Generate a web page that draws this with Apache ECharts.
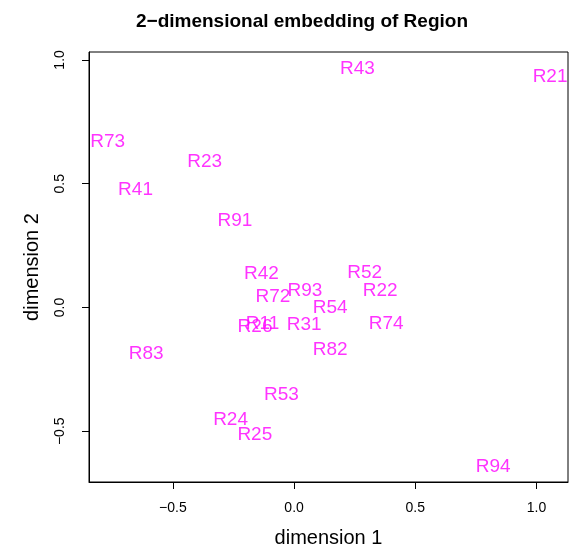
<!DOCTYPE html>
<html>
<head>
<meta charset="utf-8">
<script src="https://cdn.jsdelivr.net/npm/echarts@6/dist/echarts.min.js"></script>
<style>
  html, body { margin: 0; padding: 0; background: #fff; }
  #chart { width: 569px; height: 549px; }
</style>
</head>
<body>
<div id="chart"></div>
<script>
const regionNames = ['R43','R21','R73','R23','R41','R91','R42','R52','R93','R72','R22','R54','R74','R11','R26','R31','R82','R83','R53','R24','R25','R94'];
const dim1 = [0.261, 1.056, -0.769, -0.369, -0.654, -0.244, -0.135, 0.291, 0.045, -0.087, 0.355, 0.149, 0.380, -0.130, -0.161, 0.042, 0.149, -0.610, -0.052, -0.262, -0.162, 0.821];
const dim2 = [0.967, 0.935, 0.675, 0.594, 0.479, 0.356, 0.142, 0.146, 0.073, 0.046, 0.072, 0.003, -0.060, -0.060, -0.075, -0.065, -0.166, -0.181, -0.350, -0.451, -0.511, -0.639];
const xTicks = [-0.5, 0, 0.5, 1.0];
const yTicks = [-0.5, 0, 0.5, 1.0];
const fmt = v => (v < 0 ? '\u2212' : '') + Math.abs(v).toFixed(1);

const FONT = "'Liberation Sans', Arial, Helvetica, sans-serif";
const chart = echarts.init(document.getElementById('chart'), null, { renderer: 'canvas' });
const data = regionNames.map((n, i) => ({ name: n, value: [dim1[i], dim2[i]] }));

chart.setOption({
  backgroundColor: '#fff',
  animation: false,
  title: {
    text: '2\u2212dimensional embedding of Region',
    left: 131, top: 7,
    textStyle: { fontFamily: FONT, fontSize: 19, fontWeight: 'bold', color: '#000' }
  },
  grid: { left: 89, right: 1, top: 52, bottom: 67, show: true, borderColor: '#000', borderWidth: 1, backgroundColor: 'transparent', containLabel: false, outerBoundsMode: 'none' },
  xAxis: {
    type: 'value', min: -0.846, max: 1.13,
    name: 'dimension 1', nameLocation: 'middle', nameGap: 46,
    nameTextStyle: { fontFamily: FONT, fontSize: 20, color: '#000' },
    axisLine: { show: true, onZero: false, lineStyle: { color: '#000', width: 1 } },
    axisTick: { show: true, length: 7, inside: false, customValues: xTicks, lineStyle: { color: '#000' } },
    axisLabel: { customValues: xTicks, formatter: fmt, margin: 19, fontFamily: FONT, fontSize: 14, color: '#000' },
    splitLine: { show: false }
  },
  yAxis: {
    type: 'value', min: -0.705, max: 1.032,
    name: 'dimension 2', nameLocation: 'middle', nameGap: 47, nameRotate: 90,
    nameTextStyle: { fontFamily: FONT, fontSize: 20, color: '#000' },
    axisLine: { show: true, onZero: false, lineStyle: { color: '#000', width: 1 } },
    axisTick: { show: true, length: 7, inside: false, customValues: yTicks, lineStyle: { color: '#000' } },
    axisLabel: { customValues: yTicks, formatter: fmt, rotate: 90, margin: 22, fontFamily: FONT, fontSize: 14, color: '#000' },
    splitLine: { show: false }
  },
  series: [{
    type: 'scatter',
    data: data,
    symbolSize: 1,
    itemStyle: { color: 'rgba(0,0,0,0)' },
    label: {
      show: true, position: 'inside', offset: [0, 1], formatter: p => p.name,
      fontFamily: FONT, fontSize: 19, color: '#FF00FF'
    },
    emphasis: { disabled: true }
  }]
});
</script>
</body>
</html>
